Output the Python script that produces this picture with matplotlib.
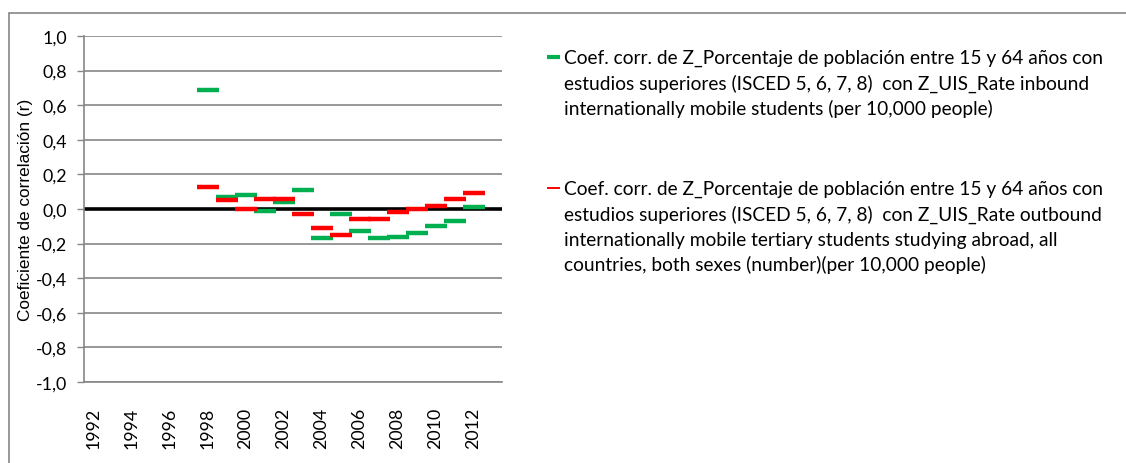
import matplotlib.pyplot as plt
from matplotlib.lines import Line2D
from matplotlib.patches import Rectangle

plt.rcParams['font.family'] = ['Lato', 'DejaVu Sans']

years = list(range(1998, 2013))
inbound = [0.69, 0.07, 0.08, -0.01, 0.04, 0.11, -0.17, -0.03, -0.13, -0.17,
           -0.16, -0.14, -0.10, -0.07, 0.01]
outbound = [0.13, 0.05, 0.00, 0.06, 0.06, -0.03, -0.11, -0.15, -0.06, -0.06,
            -0.02, 0.00, 0.02, 0.06, 0.09]
yticks = [-1.0, -0.8, -0.6, -0.4, -0.2, 0.0, 0.2, 0.4, 0.6, 0.8, 1.0]
xticks = list(range(1992, 2013, 2))

label_in = ["Coef. corr. de Z_Porcentaje de población entre 15 y 64 años con",
            "estudios superiores (ISCED 5, 6, 7, 8)  con Z_UIS_Rate inbound",
            "internationally mobile students (per 10,000 people)"]
label_out = ["Coef. corr. de Z_Porcentaje de población entre 15 y 64 años con",
             "estudios superiores (ISCED 5, 6, 7, 8)  con Z_UIS_Rate outbound",
             "internationally mobile tertiary students studying abroad, all",
             "countries, both sexes (number)(per 10,000 people)"]

green = '#00B050'
red = '#FF0000'
grey = '#868686'

W, H = 1126, 464
fig = plt.figure(figsize=(W / 100, H / 100), dpi=100)
ax = fig.add_axes([84 / W, 1 - 383 / H, 418 / W, 346 / H])

# horizontal gridlines and the heavy zero line
for v in yticks:
    ax.axhline(v, color=grey, lw=1.2, zorder=0)
ax.axhline(0, color='black', lw=2.6, zorder=1)

ax.plot(years, inbound, ls='none', marker='_', ms=16, mew=3.2, color=green, zorder=3)
ax.plot(years, outbound, ls='none', marker='_', ms=16, mew=3.2, color=red, zorder=4)

ax.set_xlim(1991.5, 2013.5)
ax.set_ylim(-1.0, 1.0)
ax.set_yticks(yticks)
ax.set_yticklabels([f"{v:.1f}".replace('.', ',').replace('-0,0', '0,0') for v in yticks])
ax.set_xticks(xticks)
ax.set_xticklabels([str(y) for y in xticks], rotation=90, va='top', ha='center')
ax.tick_params(axis='y', length=5, color=grey, width=1, pad=7, labelsize=12.8)
ax.tick_params(axis='x', length=0, pad=18, labelsize=12.8)

for s in ['top', 'right']:
    ax.spines[s].set_visible(False)
for s in ['left', 'bottom']:
    ax.spines[s].set_color(grey)
    ax.spines[s].set_linewidth(1.2)

ax.set_ylabel("Coeficiente de correlación (r)", fontsize=12.4,
              family=['Liberation Sans', 'DejaVu Sans'], labelpad=2)


# legend: short swatch next to the first line of each wrapped label
def legend_entry(y_px, color, lw, lines):
    fig.add_artist(Line2D([547 / W, 560 / W], [1 - y_px / H, 1 - y_px / H],
                          transform=fig.transFigure, color=color, lw=lw,
                          solid_capstyle='butt'))
    for i, line in enumerate(lines):
        base = y_px + 6 + i * 25.5
        fig.text(564 / W, 1 - base / H, line, fontsize=13.8, va='baseline', ha='left')


legend_entry(58, green, 3.0, label_in)
legend_entry(189, red, 1.4, label_out)

# outer chart frame
fig.patches.append(Rectangle((9 / W, -0.2), 2.0, 1.2 - 14 / H, transform=fig.transFigure,
                             fill=False, edgecolor=grey, lw=1.2))

fig.savefig('out.png', dpi=100)
